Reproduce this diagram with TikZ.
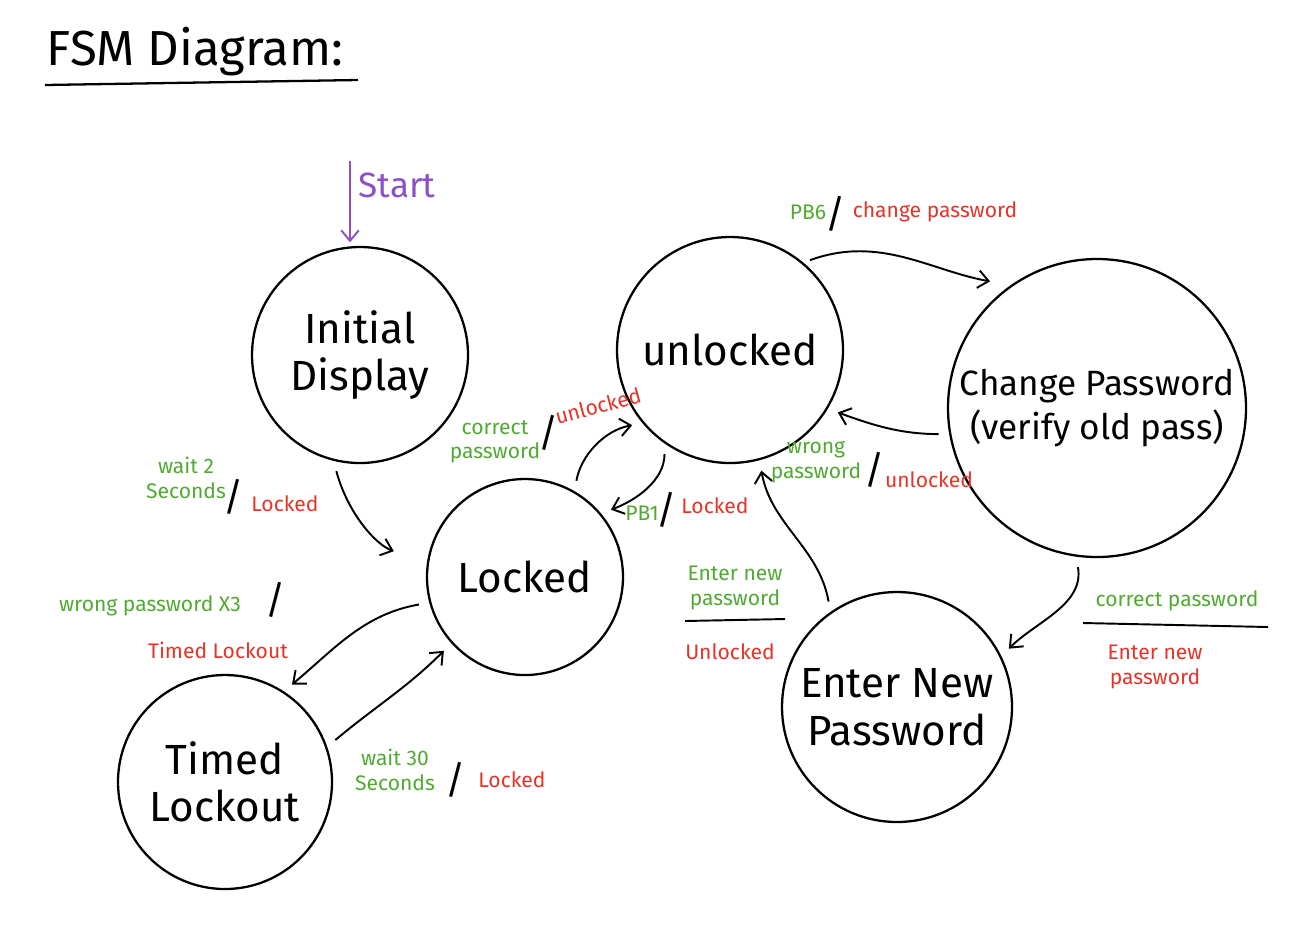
\documentclass[tikz,border=0pt]{standalone}
\usepackage{fontspec}
\setmainfont{Fira Sans}
\usetikzlibrary{arrows.meta, positioning}
\definecolor{grn}{RGB}{80,170,50}
\definecolor{rd}{RGB}{228,52,40}
\definecolor{prp}{RGB}{140,80,200}
\tikzset{
  state/.style={draw, circle, line width=1.3pt, align=center, font=\fontsize{24}{27}\selectfont, inner sep=0pt},
  line/.style={-{Straight Barb[length=6pt,width=10pt]}, line width=1.1pt, shorten <=6pt, shorten >=6pt},
  gl/.style={text=grn, align=center, font=\fontsize{12}{14}\selectfont, inner sep=1pt},
  rl/.style={text=rd, align=center, font=\fontsize{12}{14}\selectfont, inner sep=1pt},
  slash/.style={font=\fontsize{22}{22}\selectfont, inner sep=0pt}
}
\begin{document}
\begin{tikzpicture}[x=0.02cm, y=-0.02cm]
    \useasboundingbox (0,0) rectangle (1300,931);

    % title
    \node[font=\fontsize{28}{30}\selectfont] (title) at (195,52) {FSM Diagram:};
    \draw[line width=1.3pt] (45,85) -- (358,80);

    % states
    \node[state, minimum size=216*0.02cm] (init) at (360,355) {Initial\\Display};
    \node[state, minimum size=226*0.02cm] (unl) at (730,350) {unlocked};
    \node[state, minimum size=298*0.02cm, font=\fontsize{20}{25}\selectfont] (chg) at (1097,408) {Change Password\\(verify old pass)};
    \node[state, minimum size=196*0.02cm] (lck) at (525,577) {Locked};
    \node[state, minimum size=214*0.02cm] (tmd) at (225,782) {Timed\\Lockout};
    \node[state, minimum size=230*0.02cm] (new) at (897,707) {Enter New\\Password};

    % start
    \coordinate (st) at (350,150);
    \draw[line, prp, shorten >=2pt] (st) -- (init.north -| st);
    \node[text=prp, font=\fontsize{20}{22}\selectfont] (stl) at (397,185) {Start};

    % transitions
    \draw[line, shorten >=20pt] (init.-104) to[out=-75,in=160] (lck.172);
    \draw[line] (lck.60) to[out=80,in=-170] (unl.-140);
    \draw[line] (unl.-125) to[out=-90,in=20] (lck.40);
    \draw[line, shorten <=4pt, shorten >=12pt] (unl.50) to[out=20,in=170] (chg.125);
    \draw[line] (chg.-170) to[out=180,in=-20] (unl.-31);
    \draw[line] (chg.-98) to[out=-80,in=45] (new.26);
    \draw[line] (new.125) to[out=100,in=-80] (unl.-75);
    \draw[line] (lck.-165) to[out=190,in=40] (tmd.57);
    \draw[line] (tmd.19) to[out=40,in=-135] (lck.-138);

    % labels
    \node[gl] (l1a) at (186,478) {wait 2\\Seconds};
    \node[slash] (l1s) at (234,497) {/};
    \node[rl] (l1b) at (285,504) {Locked};

    \node[gl] (l2a) at (495,442) {correct\\password};
    \node[slash] (l2s) at (549,433) {/};
    \node[rl, rotate=15] (l2b) at (598,406) {unlocked};

    \node[gl] (l3a) at (642,513) {PB1};
    \node[slash] (l3s) at (667,510) {/};
    \node[rl] (l3b) at (715,506) {Locked};

    \node[gl] (l4a) at (808,212) {PB6};
    \node[slash] (l4s) at (836,214) {/};
    \node[rl] (l4b) at (935,212) {change password};

    \node[gl] (l5a) at (816,462) {wrong\\password};
    \node[slash] (l5s) at (875,470) {/};
    \node[rl] (l5b) at (929,480) {unlocked};

    \node[gl] (l6a) at (1177,601) {correct password};
    \draw[line width=1.1pt] (1083,623) -- (1268,627);
    \node[rl] (l6b) at (1155,667) {Enter new\\password};

    \node[gl] (l7a) at (735,588) {Enter new\\password};
    \draw[line width=1.1pt] (685,621) -- (785,619);
    \node[rl] (l7b) at (730,652) {Unlocked};

    \node[gl] (l8a) at (150,606) {wrong password X3};
    \node[slash] (l8s) at (276,600) {/};
    \node[rl] (l8b) at (218,650) {Timed Lockout};

    \node[gl] (l9a) at (395,770) {wait 30\\Seconds};
    \node[slash] (l9s) at (456,780) {/};
    \node[rl] (l9b) at (512,780) {Locked};
\end{tikzpicture}
\end{document}
